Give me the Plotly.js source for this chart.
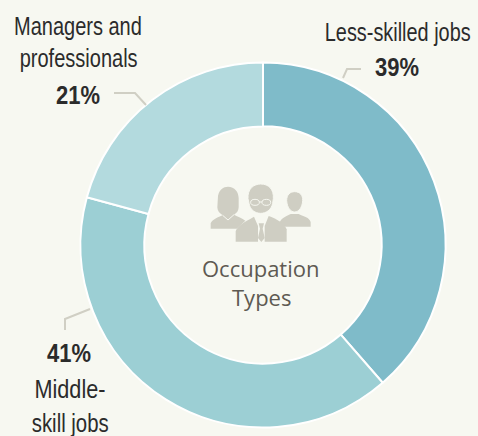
<!DOCTYPE html>
<html><head><meta charset="utf-8">
<script src="https://cdn.plot.ly/plotly-3.0.1.min.js"></script>
<style>html,body{margin:0;padding:0;background:#f7f8f1}</style></head>
<body><div id="c" style="width:478px;height:436px"></div>
<script>
const categories=['Less-skilled jobs','Middle-skill jobs','Managers and professionals'];
const values=[39,41,21];
const colors=['#7fbbc9','#9ccfd4','#b3dade'];
const W=478,H=436;
const px=x=>x/W, py=y=>1-y/H;
const sans='"Liberation Sans",sans-serif';
const labels=[
 ['Managers and',78,25.5,false,128],['professionals',78,57.5,false,118],['21%',78,95,true,44],
 ['Less-skilled jobs',397,32.5,false,146],['39%',397,67,true,44],
 ['41%',69,353,true,44],['Middle-',70,389,false,71],['skill jobs',70,423,false,77]];
const centerText=[['Occupation',260.5,268],['Types',261,297]];
const leaders=[[[114,93],[135,93],[146,105]],[[343,78],[347,69],[361,69]],[[65,330],[65,319],[90,309]]];
const icon=`<svg xmlns="http://www.w3.org/2000/svg" viewBox="0 0 420 420"><g fill="#cfcec3" stroke="#f7f8f1" stroke-width="3" stroke-linejoin="round">
<path stroke="none" d="M62 176 L62 160 C68 148 84 142 98 136 C88 130 82 122 82 112 L84 78 C88 58 100 50 114 50 C134 50 146 66 146 84 L146 112 C146 122 140 130 132 134 C144 140 156 144 166 152 L140 176 Z"/>
<path stroke="none" d="M268 160 C272 146 284 140 302 132 L326 132 C342 140 358 142 362 156 L362 170 L286 170 Z"/>
<path d="M290 92 C290 74 300 65 314 65 C330 65 339 76 338 92 C337 112 326 126 314 126 C302 126 291 112 290 92 Z"/>
<path stroke="none" d="M137 215 L137 184 C142 168 160 158 192 140 L204 168 L204 215 Z"/>
<path stroke="none" d="M224 215 L224 168 L236 138 C258 146 282 158 290 178 L290 215 Z"/>
<path stroke="none" d="M206 160 L222 160 L218 176 L224 204 L214 216 L204 204 L210 176 Z"/>
<path d="M174 86 C172 56 192 42 212 42 C236 42 252 58 250 86 L248 100 C244 120 228 130 212 130 C196 130 180 120 177 100 Z"/>
</g><g fill="none" stroke="#f7f8f1" stroke-width="3"><ellipse cx="195" cy="97" rx="13" ry="9"/><ellipse cx="229" cy="97" rx="13" ry="9"/><path d="M208 96H216M98 136 L114 150 L132 134"/></g></svg>`;
const data=[{type:'pie',labels:categories,values:values,sort:false,direction:'clockwise',rotation:0,hole:0.65,
 textinfo:'none',hoverinfo:'label+percent',marker:{colors:colors,line:{color:'#ffffff',width:2}},
 domain:{x:[px(80),px(446)],y:[py(427.5),py(62.5)]},showlegend:false}];
const annotations=labels.map(([t,x,y,b])=>({text:b?'<b>'+t+'</b>':t,x:px(x),y:py(y),xref:'paper',yref:'paper',xanchor:'center',yanchor:'middle',showarrow:false,
 font:{family:sans,size:b?26:25,color:'#2b2b2b'}}))
 .concat(centerText.map(([t,x,y])=>({text:t,x:px(x),y:py(y),xref:'paper',yref:'paper',xanchor:'center',yanchor:'middle',showarrow:false,
 font:{family:'"Open Sans",sans-serif',size:22,color:'#5e5a52'}})));
const shapes=leaders.map(p=>({type:'path',xref:'paper',yref:'paper',line:{color:'#d0cfc4',width:2},
 path:'M'+p.map(([x,y])=>px(x)+','+py(y)).join(' L')}));
const layout={width:W,height:H,margin:{l:0,r:0,t:0,b:0},paper_bgcolor:'#f7f8f1',plot_bgcolor:'#f7f8f1',annotations,shapes,
 images:[{source:'data:image/svg+xml;utf8,'+encodeURIComponent(icon),xref:'paper',yref:'paper',x:px(190),y:py(170),sizex:140/W,sizey:140/H,sizing:'stretch',xanchor:'left',yanchor:'top',layer:'above'}]};
Plotly.newPlot('c',data,layout,{displayModeBar:false,staticPlot:true}).then(()=>{
 // the reference's labels use a condensed face: squeeze the real text to its measured width
 document.querySelectorAll('#c .annotation-text').forEach(el=>{
  const row=labels.find(r=>r[0]===el.textContent);
  if(row){
   const b=el.getBBox(),cx=b.x+b.width/2,s=row[4]/b.width;
   el.setAttribute('transform',`translate(${cx} 0) scale(${s} 1) translate(${-cx} 0)`);
   const bg=el.parentNode.querySelector('rect');
   if(bg){const w=+bg.getAttribute('width'),x=+bg.getAttribute('x')||0;
    bg.setAttribute('x',x+(w-row[4])/2);bg.setAttribute('width',row[4]);}
  }
 });
});
</script></body></html>
